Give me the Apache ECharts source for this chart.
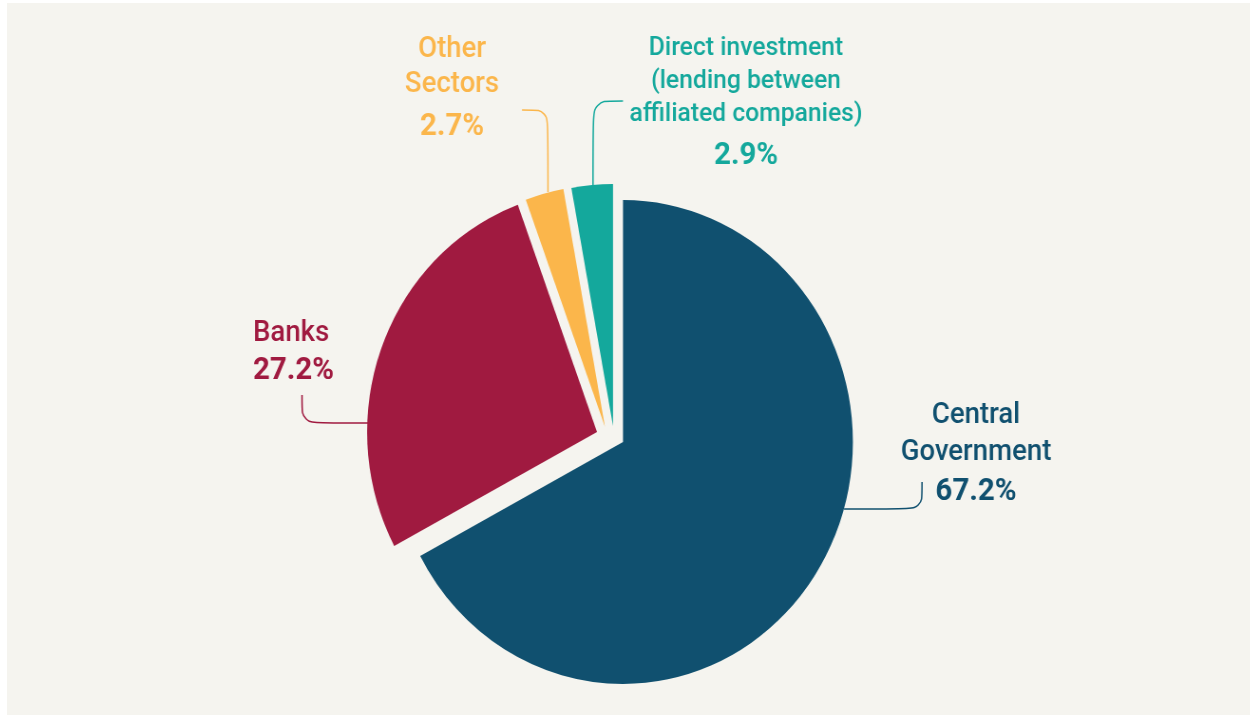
<!DOCTYPE html>
<html>
<head>
<meta charset="utf-8">
<script src="https://cdn.jsdelivr.net/npm/echarts@6/dist/echarts.min.js"></script>
<style>
  html, body { margin: 0; padding: 0; background: #fff; }
  .frame { position: absolute; left: 7px; top: 3px; width: 1243px; height: 712px; background: #f5f4ef; overflow: hidden; }
  .pie-box { width: 1308px; height: 712px; transform: scaleX(0.95); transform-origin: 0 0; }
</style>
</head>
<body>
<div class="frame"><div id="pie" class="pie-box"></div></div>
<script>
const categories = ['Central Government', 'Banks', 'Other Sectors', 'Direct investment (lending between affiliated companies)']
const labelNames = ['Central\nGovernment', 'Banks', 'Other\nSectors', 'Direct investment\n(lending between\naffiliated companies)']
const shares = [67.2, 27.2, 2.7, 2.9]
const colors = ['#10506f', '#a01a40', '#fbb64b', '#14a89c']

// the original artwork is a little squashed sideways
const SX = 0.95
const pg = (x, y) => [(x - 7) / SX, y - 3]

const pieCenter = pg(623, 442)
const pieRadius = 242
// every slice is pulled out by its own amount (page px)
const sliceShift = [[0, 0], [-26, -10], [-18, -15], [-10, -16]]

const labelSpots = [
  { at: pg(976, 397), align: 'center', line: [pg(844, 509), pg(922, 509), pg(922, 482)], size: 29, lh: 37, pctLh: 43 },
  { at: pg(253, 315), align: 'left', line: [pg(368, 423), pg(302, 423), pg(302, 395)], size: 29, lh: 37, pctLh: 39 },
  { at: pg(452, 32), align: 'center', line: [pg(548, 192), pg(548, 110), pg(522, 110)], size: 29, lh: 35, pctLh: 51 },
  { at: pg(746, 32), align: 'center', line: [pg(593, 186), pg(593, 101), pg(623, 101)], size: 26, lh: 33, pctLh: 51 },
]

const chart = echarts.init(document.getElementById('pie'))

const series = categories.map((cat, i) => {
  const spot = labelSpots[i]
  const shift = sliceShift[i]
  return {
    type: 'pie',
    name: cat,
    silent: true,
    startAngle: 90,
    clockwise: true,
    avoidLabelOverlap: false,
    radius: [0, pieRadius],
    center: [pieCenter[0] + shift[0] / SX, pieCenter[1] + shift[1]],
    emphasis: { disabled: true },
    label: {
      position: 'outside',
      formatter: (p) => '{n|' + labelNames[i].split('\n').join('}\n{n|') + '}\n{p|' + p.value.toFixed(1) + '%}',
      rich: {
        n: { fontFamily: 'Roboto', fontWeight: 500, fontSize: spot.size, lineHeight: spot.lh, color: colors[i] },
        p: { fontFamily: 'Roboto', fontWeight: 'bold', fontSize: 31, lineHeight: spot.pctLh, color: colors[i] },
      },
    },
    labelLine: {
      smooth: 0.3,
      lineStyle: { color: colors[i], width: 1.5 },
    },
    labelLayout: (params) => {
      if (params.dataIndex !== i) return {}
      return { x: spot.at[0], y: spot.at[1], align: spot.align, verticalAlign: 'top', labelLinePoints: spot.line }
    },
    data: shares.map((v, j) => ({
      name: categories[j],
      value: v,
      itemStyle: { color: j === i ? colors[j] : 'rgba(0,0,0,0)' },
      label: { show: j === i },
      labelLine: { show: j === i },
    })),
  }
})

chart.setOption({
  animation: false,
  series,
})
</script>
</body>
</html>
